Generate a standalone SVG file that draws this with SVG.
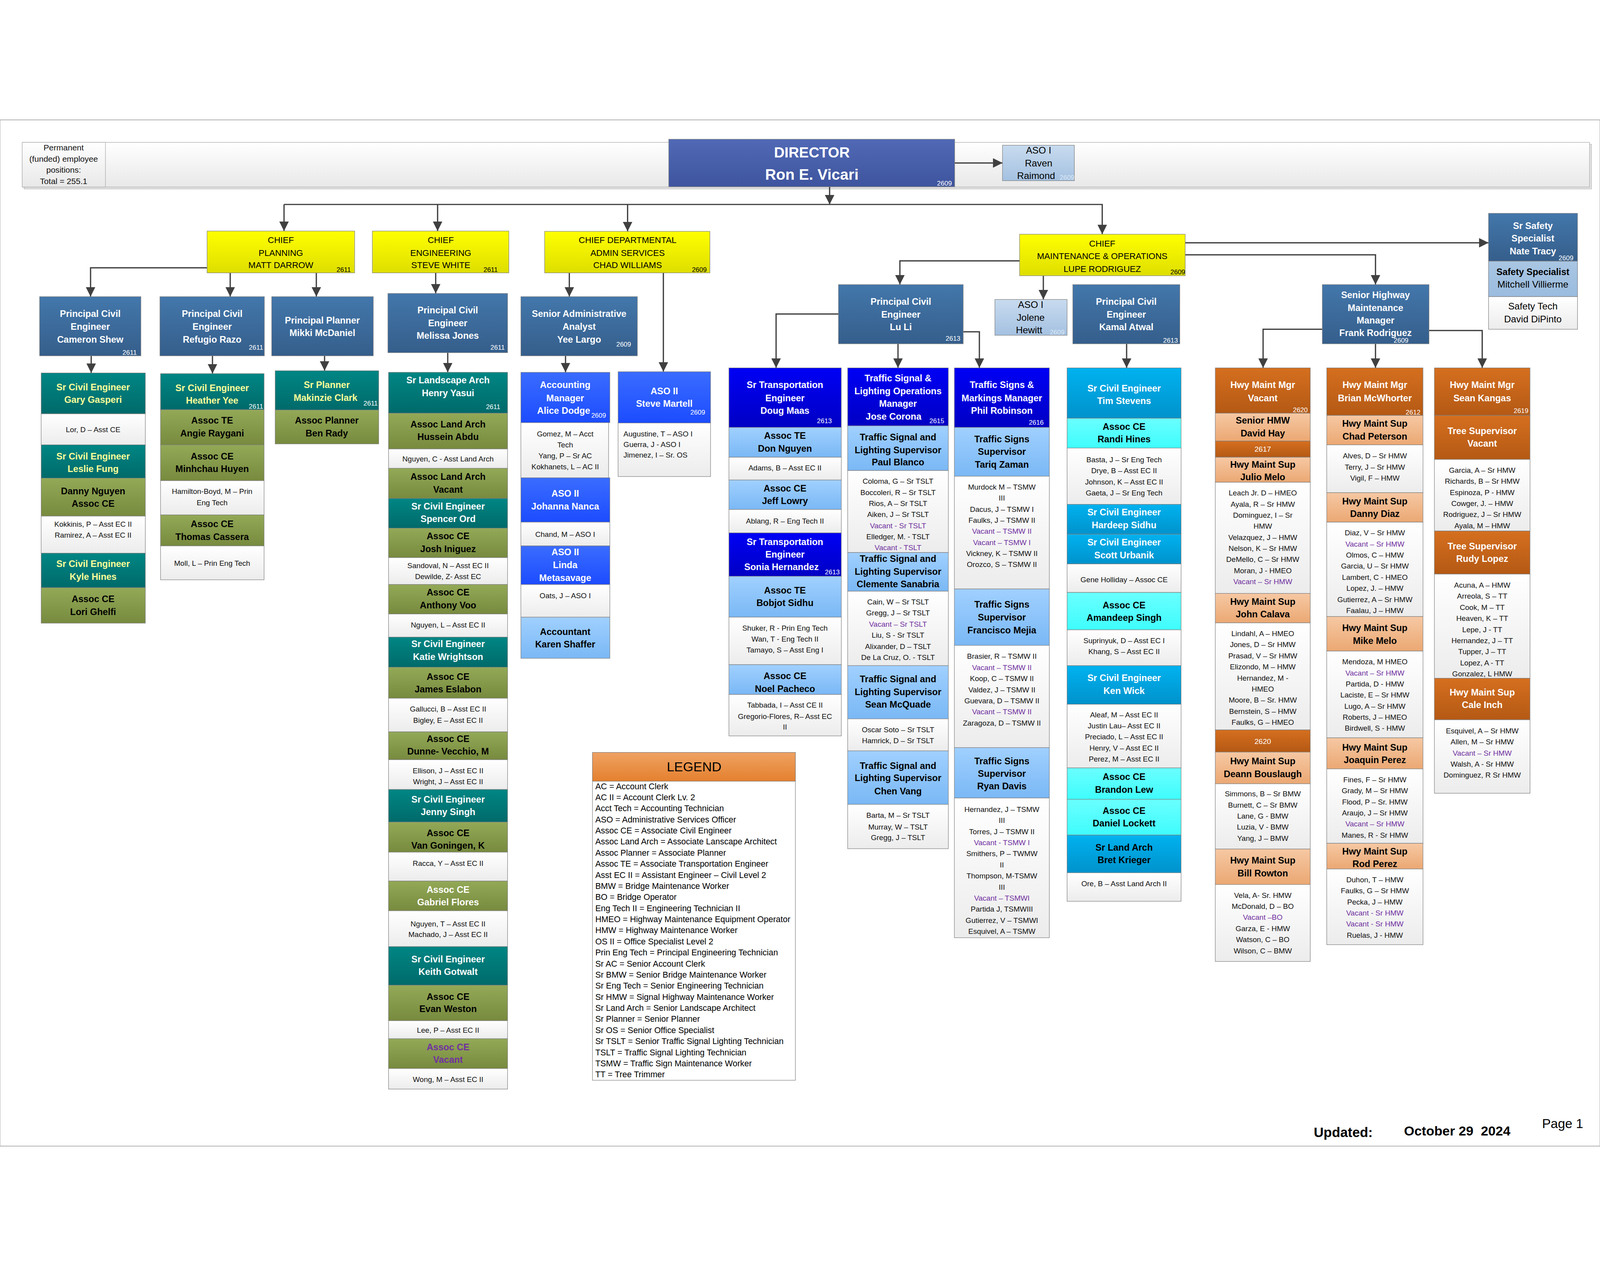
<svg xmlns="http://www.w3.org/2000/svg" width="5053" height="3240" viewBox="0 0 5053 3240" style="width:100vw;height:100vh">
<defs>
<linearGradient id="gTeal" x1="0" y1="0" x2="0" y2="1"><stop offset="0" stop-color="#008684"/><stop offset="1" stop-color="#006a6a"/></linearGradient>
<linearGradient id="gOlive" x1="0" y1="0" x2="0" y2="1"><stop offset="0" stop-color="#93a957"/><stop offset="1" stop-color="#778a3e"/></linearGradient>
<linearGradient id="gSteel" x1="0" y1="0" x2="0" y2="1"><stop offset="0" stop-color="#4377ab"/><stop offset="1" stop-color="#355e8b"/></linearGradient>
<linearGradient id="gRoyal" x1="0" y1="0" x2="0" y2="1"><stop offset="0" stop-color="#3a6cff"/><stop offset="1" stop-color="#1c4cff"/></linearGradient>
<linearGradient id="gBlue" x1="0" y1="0" x2="0" y2="1"><stop offset="0" stop-color="#0000f5"/><stop offset="1" stop-color="#0000c4"/></linearGradient>
<linearGradient id="gLight" x1="0" y1="0" x2="0" y2="1"><stop offset="0" stop-color="#a0d0ff"/><stop offset="1" stop-color="#7ab8f5"/></linearGradient>
<linearGradient id="gCyan" x1="0" y1="0" x2="0" y2="1"><stop offset="0" stop-color="#00b2ef"/><stop offset="1" stop-color="#0092cc"/></linearGradient>
<linearGradient id="gAqua" x1="0" y1="0" x2="0" y2="1"><stop offset="0" stop-color="#6affff"/><stop offset="1" stop-color="#3ffcfc"/></linearGradient>
<linearGradient id="gOrange" x1="0" y1="0" x2="0" y2="1"><stop offset="0" stop-color="#d56f1f"/><stop offset="1" stop-color="#b45914"/></linearGradient>
<linearGradient id="gPeach" x1="0" y1="0" x2="0" y2="1"><stop offset="0" stop-color="#f6c8a3"/><stop offset="1" stop-color="#eba873"/></linearGradient>
<linearGradient id="gWhite" x1="0" y1="0" x2="0" y2="1"><stop offset="0" stop-color="#ffffff"/><stop offset="1" stop-color="#ececec"/></linearGradient>
<linearGradient id="gYellow" x1="0" y1="0" x2="0" y2="1"><stop offset="0" stop-color="#ffff00"/><stop offset="1" stop-color="#dede00"/></linearGradient>
<linearGradient id="gDir" x1="0" y1="0" x2="0" y2="1"><stop offset="0" stop-color="#5169b5"/><stop offset="1" stop-color="#3e549e"/></linearGradient>
<linearGradient id="gAso" x1="0" y1="0" x2="0" y2="1"><stop offset="0" stop-color="#c8dbef"/><stop offset="1" stop-color="#a4c1e1"/></linearGradient>
<linearGradient id="gSafe" x1="0" y1="0" x2="0" y2="1"><stop offset="0" stop-color="#a9c6e3"/><stop offset="1" stop-color="#9bbcdf"/></linearGradient>
<linearGradient id="gLegend" x1="0" y1="0" x2="0" y2="1"><stop offset="0" stop-color="#efa262"/><stop offset="1" stop-color="#e4802e"/></linearGradient>
<linearGradient id="gBanner" x1="0" y1="0" x2="0" y2="1"><stop offset="0" stop-color="#ffffff"/><stop offset="1" stop-color="#e8e8e8"/></linearGradient>
<marker id="ah" markerUnits="userSpaceOnUse" markerWidth="30" markerHeight="30" refX="30" refY="15" orient="auto"><path d="M0,0 L30,15 L0,30 z" fill="#404040"/></marker>
</defs>
<style>
rect{stroke:#7f7f7f;stroke-width:1.5}
.teal{fill:url(#gTeal)}.olive{fill:url(#gOlive)}.steel{fill:url(#gSteel)}.royal{fill:url(#gRoyal)}.blue{fill:url(#gBlue)}.light{fill:url(#gLight)}.cyan{fill:url(#gCyan)}.aqua{fill:url(#gAqua)}.orange{fill:url(#gOrange)}.peach{fill:url(#gPeach)}.white{fill:url(#gWhite)}.yellow{fill:url(#gYellow)}.dir{fill:url(#gDir)}.aso{fill:url(#gAso)}.safe{fill:url(#gSafe)}.leg{fill:url(#gLegend)}.banner{fill:url(#gBanner);stroke:#a6a6a6}
text{font-family:"Liberation Sans",Arial,sans-serif}
.h{font-size:29px;font-weight:bold;text-anchor:middle;fill:#000}
.t{font-size:23.5px;text-anchor:middle;fill:#111}
.c{font-size:27.5px;text-anchor:middle;fill:#000}
.a{font-size:30px;text-anchor:middle;fill:#000}
.num{font-size:21px;fill:#fff;text-anchor:end}
.lg{font-size:26.5px;fill:#000}
.w{fill:#fff}.y{fill:#ffff99}.p{fill:#7030a0}.k{fill:#000}.ln{fill:#dce8f5}
.conn path{fill:none;stroke:#404040;stroke-width:4;marker-end:url(#ah)}
</style>
<rect x="0" y="0" width="5053" height="3240" fill="#fff" stroke="none"/>

<g id="banner">
<rect x="76" y="77" width="4950" height="141" fill="#d4d4d4" stroke="none" opacity="0.6"/>
<rect class="banner" x="70" y="71" width="4950" height="141"/>
</g>
<g id="n-permanent">
<rect class="banner" x="70" y="71" width="263" height="141"/>
<text class="t" style="font-size:26px" x="201" y="97">Permanent</text>
<text class="t" style="font-size:26px" x="201" y="132">(funded) employee</text>
<text class="t" style="font-size:26px" x="201" y="167">positions:</text>
<text class="t" style="font-size:26px" x="201" y="202">Total = 255.1</text>
</g>

<g class="conn" id="connectors">
<path d="M2620,211 L2620,267"/>
<path d="M897,267 L3481,267 L3481,361"/>
<path d="M897,267 L897,351"/>
<path d="M1382,267 L1382,351"/>
<path d="M1982,267 L1982,352"/>
<path d="M3015,136 L3166,136"/>
<path d="M654,467 L286,467 L286,558"/>
<path d="M727,483 L727,558"/>
<path d="M999,483 L999,558"/>
<path d="M1376,483 L1376,548"/>
<path d="M1798,483 L1798,558"/>
<path d="M2095,483 L2095,795"/>
<path d="M3220,445 L2842,445 L2842,520"/>
<path d="M3295,492 L3295,567"/>
<path d="M3743,388 L4701,388"/>
<path d="M3743,426 L4344,426 L4344,520"/>
<path d="M2648,613 L2451,613 L2451,783"/>
<path d="M2836,707 L2836,783"/>
<path d="M3042,669 L3093,669 L3093,783"/>
<path d="M3558,707 L3558,783"/>
<path d="M4176,661 L3989,661 L3989,783"/>
<path d="M4344,707 L4344,783"/>
<path d="M4513,665 L4681,665 L4681,783"/>
<path d="M288,745 L288,799"/>
<path d="M671,745 L671,801"/>
<path d="M1025,745 L1025,792"/>
<path d="M1414,735 L1414,797"/>
<path d="M1786,745 L1786,797"/>
</g>

<g id="n-director">
<rect class="dir" x="2112" y="61" width="903" height="150"/>
<text class="h w" style="font-size:46px" x="2564" y="119">DIRECTOR</text>
<text class="h w" style="font-size:48px" x="2564" y="189">Ron E. Vicari</text>
<text class="num" x="3006" y="207">2609</text>
</g>
<g id="n-raven">
<rect class="aso" x="3166" y="80" width="227" height="112"/>
<text class="a" x="3280" y="106">ASO I</text>
<text class="a" x="3280" y="147">Raven</text>
<text class="a" x="3272" y="187">Raimond</text>
<text class="num ln" x="3393" y="189">2609</text>
</g>

<g id="n-chief-planning">
<rect class="yellow" x="654" y="351" width="466" height="132"/>
<text class="c" x="887" y="389">CHIEF</text>
<text class="c" x="887" y="429">PLANNING</text>
<text class="c" x="887" y="468">MATT DARROW</text>
<text class="num k" x="1108" y="480">2611</text>
</g>
<g id="n-chief-engineering">
<rect class="yellow" x="1176" y="351" width="431" height="132"/>
<text class="c" x="1392" y="389">CHIEF</text>
<text class="c" x="1392" y="429">ENGINEERING</text>
<text class="c" x="1392" y="468">STEVE WHITE</text>
<text class="num k" x="1572" y="480">2611</text>
</g>
<g id="n-chief-admin">
<rect class="yellow" x="1720" y="352" width="522" height="131"/>
<text class="c" x="1982" y="389">CHIEF DEPARTMENTAL</text>
<text class="c" x="1982" y="429">ADMIN SERVICES</text>
<text class="c" x="1982" y="468">CHAD WILLIAMS</text>
<text class="num k" x="2232" y="480">2609</text>
</g>
<g id="n-chief-mo">
<rect class="yellow" x="3220" y="361" width="523" height="131"/>
<text class="c" x="3481" y="400">CHIEF</text>
<text class="c" x="3481" y="439">MAINTENANCE &amp; OPERATIONS</text>
<text class="c" x="3481" y="480">LUPE RODRIGUEZ</text>
<text class="num k" x="3743" y="487">2609</text>
</g>

<g id="n-cameron">
<rect class="steel" x="125" y="558" width="320" height="187"/>
<text class="h w" x="285" y="622">Principal Civil</text>
<text class="h w" x="285" y="663">Engineer</text>
<text class="h w" x="285" y="703">Cameron Shew</text>
<text class="num" x="432" y="742">2611</text>
</g>
<g id="n-refugio">
<rect class="steel" x="505" y="558" width="330" height="187"/>
<text class="h w" x="670" y="622">Principal Civil</text>
<text class="h w" x="670" y="663">Engineer</text>
<text class="h w" x="670" y="703">Refugio Razo</text>
<text class="num" x="831" y="725">2611</text>
</g>
<g id="n-mikki">
<rect class="steel" x="858" y="558" width="321" height="187"/>
<text class="h w" x="1018" y="643">Principal Planner</text>
<text class="h w" x="1018" y="682">Mikki McDaniel</text>
</g>
<g id="n-melissa">
<rect class="steel" x="1225" y="548" width="378" height="187"/>
<text class="h w" x="1414" y="611">Principal Civil</text>
<text class="h w" x="1414" y="651">Engineer</text>
<text class="h w" x="1414" y="691">Melissa Jones</text>
<text class="num" x="1594" y="725">2611</text>
</g>
<g id="n-yee">
<rect class="steel" x="1645" y="558" width="368" height="187"/>
<text class="h w" x="1829" y="622">Senior Administrative</text>
<text class="h w" x="1829" y="663">Analyst</text>
<text class="h w" x="1829" y="703">Yee Largo</text>
<text class="num" x="1993" y="716">2609</text>
</g>
<g id="n-luli">
<rect class="steel" x="2648" y="520" width="394" height="187"/>
<text class="h w" x="2845" y="584">Principal Civil</text>
<text class="h w" x="2845" y="624">Engineer</text>
<text class="h w" x="2845" y="664">Lu Li</text>
<text class="num" x="3033" y="697">2613</text>
</g>
<g id="n-jolene">
<rect class="aso" x="3142" y="567" width="228" height="113"/>
<text class="a" x="3255" y="594">ASO I</text>
<text class="a" x="3255" y="634">Jolene</text>
<text class="a" x="3250" y="674">Hewitt</text>
<text class="num ln" x="3362" y="678">2609</text>
</g>
<g id="n-kamal">
<rect class="steel" x="3388" y="520" width="338" height="187"/>
<text class="h w" x="3557" y="584">Principal Civil</text>
<text class="h w" x="3557" y="624">Engineer</text>
<text class="h w" x="3557" y="664">Kamal Atwal</text>
<text class="num" x="3720" y="703">2613</text>
</g>
<g id="n-nate">
<rect class="steel" x="4701" y="295" width="281" height="151"/>
<text class="h w" x="4841" y="344">Sr Safety</text>
<text class="h w" x="4841" y="384">Specialist</text>
<text class="h w" x="4841" y="425">Nate Tracy</text>
<text class="num" x="4969" y="443">2609</text>
</g>
<g id="n-mitchell">
<rect class="safe" x="4701" y="446" width="281" height="112"/>
<text class="h" x="4841" y="490">Safety Specialist</text>
<text class="a" x="4841" y="530">Mitchell Villierme</text>
</g>
<g id="n-dipinto">
<rect class="white" x="4701" y="558" width="281" height="103"/>
<text class="a" x="4841" y="599">Safety Tech</text>
<text class="a" x="4841" y="639">David DiPinto</text>
</g>
<g id="n-frank">
<rect class="steel" x="4176" y="520" width="337" height="187"/>
<text class="h w" x="4344" y="563">Senior Highway</text>
<text class="h w" x="4344" y="603">Maintenance</text>
<text class="h w" x="4344" y="643">Manager</text>
<text class="h w" x="4344" y="683">Frank Rodriguez</text>
<text class="num" x="4448" y="704">2609</text>
</g>

<g id="n-a1"><rect class="teal" x="130" y="799" width="329" height="129"/><text class="h y" x="294" y="854">Sr Civil Engineer</text><text class="h y" x="294" y="894">Gary Gasperi</text></g>
<g id="n-a2"><rect class="white" x="130" y="928" width="329" height="98"/><text class="t" x="294" y="986">Lor, D – Asst CE</text></g>
<g id="n-a3"><rect class="teal" x="130" y="1026" width="329" height="105"/><text class="h y" x="294" y="1072">Sr Civil Engineer</text><text class="h y" x="294" y="1112">Leslie Fung</text></g>
<g id="n-a4"><rect class="olive" x="130" y="1131" width="329" height="120"/><text class="h" x="294" y="1182">Danny Nguyen</text><text class="h" x="294" y="1221">Assoc CE</text></g>
<g id="n-a5"><rect class="white" x="130" y="1251" width="329" height="117"/><text class="t" x="294" y="1284">Kokkinis, P – Asst EC II</text><text class="t" x="294" y="1319">Ramirez, A – Asst EC II</text></g>
<g id="n-a6"><rect class="teal" x="130" y="1368" width="329" height="109"/><text class="h y" x="294" y="1411">Sr Civil Engineer</text><text class="h y" x="294" y="1452">Kyle Hines</text></g>
<g id="n-a7"><rect class="olive" x="130" y="1477" width="329" height="112"/><text class="h" x="294" y="1523">Assoc CE</text><text class="h" x="294" y="1563">Lori Ghelfi</text></g>

<g id="n-b1"><rect class="teal" x="507" y="801" width="327" height="114"/><text class="h y" x="670" y="856">Sr Civil Engineer</text><text class="h y" x="670" y="896">Heather Yee</text><text class="num" x="831" y="912">2611</text></g>
<g id="n-b2"><rect class="olive" x="507" y="915" width="327" height="111"/><text class="h" x="670" y="959">Assoc TE</text><text class="h" x="670" y="1000">Angie Raygani</text></g>
<g id="n-b3"><rect class="olive" x="507" y="1026" width="327" height="113"/><text class="h" x="670" y="1072">Assoc CE</text><text class="h" x="670" y="1112">Minhchau Huyen</text></g>
<g id="n-b4"><rect class="white" x="507" y="1139" width="327" height="108"/><text class="t" x="670" y="1181">Hamilton-Boyd, M – Prin</text><text class="t" x="670" y="1216">Eng Tech</text></g>
<g id="n-b5"><rect class="olive" x="507" y="1247" width="327" height="98"/><text class="h" x="670" y="1286">Assoc CE</text><text class="h" x="670" y="1326">Thomas Cassera</text></g>
<g id="n-b6"><rect class="white" x="507" y="1345" width="327" height="107"/><text class="t" x="670" y="1408">Moll, L – Prin Eng Tech</text></g>

<g id="n-c1"><rect class="teal" x="869" y="792" width="327" height="124"/><text class="h y" x="1032" y="847">Sr Planner</text><text class="h y" x="1028" y="887">Makinzie Clark</text><text class="num" x="1193" y="902">2611</text></g>
<g id="n-c2"><rect class="olive" x="869" y="916" width="327" height="107"/><text class="h" x="1032" y="959">Assoc Planner</text><text class="h" x="1032" y="1000">Ben Rady</text></g>

<g id="n-d1"><rect class="teal" x="1227" y="797" width="376" height="129"/><text class="h w" x="1415" y="832">Sr Landscape Arch</text><text class="h w" x="1415" y="872">Henry Yasui</text><text class="num" x="1580" y="913">2611</text></g>
<g id="n-d2"><rect class="olive" x="1227" y="926" width="376" height="113"/><text class="h" x="1415" y="971">Assoc Land Arch</text><text class="h" x="1415" y="1011">Hussein Abdu</text></g>
<g id="n-d3"><rect class="white" x="1227" y="1039" width="376" height="61"/><text class="t" x="1415" y="1079">Nguyen, C - Asst Land Arch</text></g>
<g id="n-d4"><rect class="olive" x="1227" y="1100" width="376" height="95"/><text class="h" x="1415" y="1137">Assoc Land Arch</text><text class="h" x="1415" y="1177">Vacant</text></g>
<g id="n-d5"><rect class="teal" x="1227" y="1195" width="376" height="94"/><text class="h w" x="1415" y="1230">Sr Civil Engineer</text><text class="h w" x="1415" y="1270">Spencer Ord</text></g>
<g id="n-d6"><rect class="olive" x="1227" y="1289" width="376" height="93"/><text class="h" x="1415" y="1324">Assoc CE</text><text class="h" x="1415" y="1365">Josh Iniguez</text></g>
<g id="n-d7"><rect class="white" x="1227" y="1382" width="376" height="85"/><text class="t" x="1415" y="1415">Sandoval, N – Asst EC II</text><text class="t" x="1415" y="1450">Dewilde, Z- Asst EC</text></g>
<g id="n-d8"><rect class="olive" x="1227" y="1467" width="376" height="93"/><text class="h" x="1415" y="1502">Assoc CE</text><text class="h" x="1415" y="1542">Anthony Voo</text></g>
<g id="n-d9"><rect class="white" x="1227" y="1560" width="376" height="73"/><text class="t" x="1415" y="1603">Nguyen, L – Asst EC II</text></g>
<g id="n-d10"><rect class="teal" x="1227" y="1633" width="376" height="95"/><text class="h w" x="1415" y="1665">Sr Civil Engineer</text><text class="h w" x="1415" y="1705">Katie Wrightson</text></g>
<g id="n-d11"><rect class="olive" x="1227" y="1728" width="376" height="98"/><text class="h" x="1415" y="1768">Assoc CE</text><text class="h" x="1415" y="1808">James Eslabon</text></g>
<g id="n-d12"><rect class="white" x="1227" y="1826" width="376" height="106"/><text class="t" x="1415" y="1868">Gallucci, B – Asst EC II</text><text class="t" x="1415" y="1904">Bigley, E – Asst EC II</text></g>
<g id="n-d13"><rect class="olive" x="1227" y="1932" width="376" height="88"/><text class="h" x="1415" y="1964">Assoc CE</text><text class="h" x="1415" y="2004">Dunne- Vecchio, M</text></g>
<g id="n-d14"><rect class="white" x="1227" y="2020" width="376" height="94"/><text class="t" x="1415" y="2063">Ellison, J – Asst EC II</text><text class="t" x="1415" y="2098">Wright, J – Asst EC II</text></g>
<g id="n-d15"><rect class="teal" x="1227" y="2114" width="376" height="103"/><text class="h w" x="1415" y="2155">Sr Civil Engineer</text><text class="h w" x="1415" y="2195">Jenny Singh</text></g>
<g id="n-d16"><rect class="olive" x="1227" y="2217" width="376" height="95"/><text class="h" x="1415" y="2262">Assoc CE</text><text class="h" x="1415" y="2301">Van Goningen, K</text></g>
<g id="n-d17"><rect class="white" x="1227" y="2312" width="376" height="91"/><text class="t" x="1415" y="2355">Racca, Y – Asst EC II</text></g>
<g id="n-d18"><rect class="olive" x="1227" y="2403" width="376" height="94"/><text class="h w" x="1415" y="2440">Assoc CE</text><text class="h w" x="1415" y="2480">Gabriel Flores</text></g>
<g id="n-d19"><rect class="white" x="1227" y="2497" width="376" height="113"/><text class="t" x="1415" y="2546">Nguyen, T – Asst EC II</text><text class="t" x="1415" y="2580">Machado, J  – Asst EC II</text></g>
<g id="n-d20"><rect class="teal" x="1227" y="2610" width="376" height="122"/><text class="h w" x="1415" y="2660">Sr Civil Engineer</text><text class="h w" x="1415" y="2700">Keith Gotwalt</text></g>
<g id="n-d21"><rect class="olive" x="1227" y="2732" width="376" height="112"/><text class="h" x="1415" y="2778">Assoc CE</text><text class="h" x="1415" y="2817">Evan Weston</text></g>
<g id="n-d22"><rect class="white" x="1227" y="2844" width="376" height="57"/><text class="t" x="1415" y="2882">Lee, P – Asst EC II</text></g>
<g id="n-d23"><rect class="olive" x="1227" y="2901" width="376" height="94"/><text class="h p" x="1415" y="2937">Assoc CE</text><text class="h p" x="1415" y="2977">Vacant</text></g>
<g id="n-d24"><rect class="white" x="1227" y="2995" width="376" height="65"/><text class="t" x="1415" y="3038">Wong, M – Asst EC II</text></g>

<g id="n-e1"><rect class="royal" x="1645" y="797" width="281" height="159"/><text class="h w" x="1785" y="847">Accounting</text><text class="h w" x="1785" y="888">Manager</text><text class="h w" x="1780" y="928">Alice Dodge</text><text class="num" x="1914" y="940">2609</text></g>
<g id="n-e2"><rect class="white" x="1645" y="956" width="277" height="174"/><text class="t" x="1785" y="999">Gomez, M – Acct</text><text class="t" x="1785" y="1034">Tech</text><text class="t" x="1785" y="1068">Yang, P – Sr AC</text><text class="t" x="1785" y="1103">Kokhanets, L  – AC II</text></g>
<g id="n-e3"><rect class="royal" x="1645" y="1130" width="281" height="140"/><text class="h w" x="1785" y="1189">ASO II</text><text class="h w" x="1785" y="1230">Johanna Nanca</text></g>
<g id="n-e4"><rect class="white" x="1645" y="1270" width="281" height="75"/><text class="t" x="1785" y="1317">Chand, M – ASO I</text></g>
<g id="n-e5"><rect class="royal" x="1645" y="1345" width="281" height="122"/><text class="h w" x="1785" y="1375">ASO II</text><text class="h w" x="1785" y="1415">Linda</text><text class="h w" x="1785" y="1456">Metasavage</text></g>
<g id="n-e6"><rect class="white" x="1645" y="1467" width="281" height="103"/><text class="t" x="1785" y="1510">Oats, J – ASO I</text></g>
<g id="n-e7"><rect class="light" x="1645" y="1570" width="281" height="130"/><text class="h" x="1785" y="1626">Accountant</text><text class="h" x="1785" y="1666">Karen Shaffer</text></g>

<g id="n-f1"><rect class="royal" x="1952" y="795" width="292" height="162"/><text class="h w" x="2098" y="866">ASO II</text><text class="h w" x="2098" y="906">Steve Martell</text><text class="num" x="2227" y="930">2609</text></g>
<g id="n-f2"><rect class="white" x="1952" y="957" width="292" height="169"/><text class="t" style="text-anchor:start" x="1969" y="1000">Augustine, T – ASO I</text><text class="t" style="text-anchor:start" x="1969" y="1033">Guerra, J -  ASO I</text><text class="t" style="text-anchor:start" x="1969" y="1066">Jimenez, I – Sr. OS</text></g>

<g id="n-g1"><rect class="blue" x="2302" y="783" width="355" height="188"/><text class="h w" x="2479" y="847">Sr Transportation</text><text class="h w" x="2479" y="888">Engineer</text><text class="h w" x="2479" y="928">Doug Maas</text><text class="num" x="2627" y="957">2613</text></g>
<g id="n-g2"><rect class="light" x="2302" y="971" width="355" height="94"/><text class="h" x="2479" y="1007">Assoc TE</text><text class="h" x="2479" y="1047">Don Nguyen</text></g>
<g id="n-g3"><rect class="white" x="2302" y="1065" width="355" height="72"/><text class="t" x="2479" y="1107">Adams, B – Asst EC II</text></g>
<g id="n-g4"><rect class="light" x="2302" y="1137" width="355" height="93"/><text class="h" x="2479" y="1173">Assoc CE</text><text class="h" x="2479" y="1213">Jeff Lowry</text></g>
<g id="n-g5"><rect class="white" x="2302" y="1230" width="355" height="74"/><text class="t" x="2479" y="1274">Ablang, R – Eng Tech II</text></g>
<g id="n-g6"><rect class="blue" x="2302" y="1304" width="355" height="137"/><text class="h w" x="2479" y="1342">Sr Transportation</text><text class="h w" x="2479" y="1382">Engineer</text><text class="h w" x="2468" y="1422">Sonia Hernandez</text><text class="num" x="2652" y="1435">2613</text></g>
<g id="n-g7"><rect class="light" x="2302" y="1441" width="355" height="129"/><text class="h" x="2479" y="1495">Assoc TE</text><text class="h" x="2479" y="1535">Bobjot Sidhu</text></g>
<g id="n-g8"><rect class="white" x="2302" y="1570" width="355" height="150"/><text class="t" x="2479" y="1612">Shuker, R - Prin Eng Tech</text><text class="t" x="2479" y="1647">Wan, T - Eng Tech II</text><text class="t" x="2479" y="1682">Tamayo, S – Asst Eng I</text></g>
<g id="n-g9"><rect class="light" x="2302" y="1720" width="355" height="94"/><text class="h" x="2479" y="1766">Assoc CE</text><text class="h" x="2479" y="1806">Noel Pacheco</text></g>
<g id="n-g10"><rect class="white" x="2302" y="1814" width="355" height="131"/><text class="t" x="2479" y="1856">Tabbada, I – Asst CE II</text><text class="t" x="2479" y="1891">Gregorio-Flores, R– Asst EC</text><text class="t" x="2479" y="1925">II</text></g>

<g id="n-h1"><rect class="blue" x="2677" y="783" width="318" height="183"/><text class="h w" x="2836" y="826">Traffic Signal &amp;</text><text class="h w" x="2836" y="866">Lighting Operations</text><text class="h w" x="2836" y="906">Manager</text><text class="h w" x="2822" y="946">Jose Corona</text><text class="num" x="2982" y="957">2615</text></g>
<g id="n-h2"><rect class="light" x="2677" y="966" width="318" height="141"/><text class="h" x="2836" y="1012">Traffic Signal and</text><text class="h" x="2836" y="1052">Lighting Supervisor</text><text class="h" x="2836" y="1091">Paul  Blanco</text></g>
<g id="n-h3"><rect class="white" x="2677" y="1107" width="318" height="259"/><text class="t" x="2836" y="1149">Coloma, G – Sr TSLT</text><text class="t" x="2836" y="1184">Boccoleri, R – Sr TSLT</text><text class="t" x="2836" y="1219">Rios, A – Sr TSLT</text><text class="t" x="2836" y="1254">Aiken, J – Sr TSLT</text><text class="t p" x="2836" y="1289">Vacant -  Sr TSLT</text><text class="t" x="2836" y="1324">Elledger, M. - TSLT</text><text class="t p" x="2836" y="1359">Vacant - TSLT</text></g>
<g id="n-h4"><rect class="light" x="2677" y="1366" width="318" height="122"/><text class="h" x="2836" y="1396">Traffic Signal and</text><text class="h" x="2836" y="1436">Lighting Supervisor</text><text class="h" x="2836" y="1476">Clemente Sanabria</text></g>
<g id="n-h5"><rect class="white" x="2677" y="1488" width="318" height="235"/><text class="t" x="2836" y="1530">Cain, W – Sr TSLT</text><text class="t" x="2836" y="1565">Gregg, J – Sr TSLT</text><text class="t p" x="2836" y="1600">Vacant – Sr TSLT</text><text class="t" x="2836" y="1635">Liu, S -  Sr TSLT</text><text class="t" x="2836" y="1670">Alixander, D – TSLT</text><text class="t" x="2836" y="1705">De La Cruz, O. - TSLT</text></g>
<g id="n-h6"><rect class="light" x="2677" y="1723" width="318" height="168"/><text class="h" x="2836" y="1775">Traffic Signal and</text><text class="h" x="2836" y="1816">Lighting Supervisor</text><text class="h" x="2836" y="1856">Sean McQuade</text></g>
<g id="n-h7"><rect class="white" x="2677" y="1891" width="318" height="101"/><text class="t" x="2836" y="1933">Oscar Soto – Sr TSLT</text><text class="t" x="2836" y="1968">Hamrick, D – Sr TSLT</text></g>
<g id="n-h8"><rect class="light" x="2677" y="1992" width="318" height="169"/><text class="h" x="2836" y="2049">Traffic Signal and</text><text class="h" x="2836" y="2088">Lighting Supervisor</text><text class="h" x="2836" y="2129">Chen Vang</text></g>
<g id="n-h9"><rect class="white" x="2677" y="2161" width="318" height="140"/><text class="t" x="2836" y="2204">Barta, M – Sr TSLT</text><text class="t" x="2836" y="2240">Murray, W –  TSLT</text><text class="t" x="2836" y="2274">Gregg, J –  TSLT</text></g>

<g id="n-i1"><rect class="blue" x="3014" y="783" width="300" height="188"/><text class="h w" x="3164" y="847">Traffic Signs &amp;</text><text class="h w" x="3164" y="888">Markings Manager</text><text class="h w" x="3164" y="928">Phil Robinson</text><text class="num" x="3296" y="962">2616</text></g>
<g id="n-i2"><rect class="light" x="3014" y="971" width="300" height="154"/><text class="h" x="3164" y="1018">Traffic Signs</text><text class="h" x="3164" y="1058">Supervisor</text><text class="h" x="3164" y="1098">Tariq Zaman</text></g>
<g id="n-i3"><rect class="white" x="3014" y="1125" width="300" height="356"/><text class="t" x="3164" y="1167">Murdock M – TSMW</text><text class="t" x="3164" y="1202">III</text><text class="t" x="3164" y="1237">Dacus, J – TSMW I</text><text class="t" x="3164" y="1272">Faulks, J – TSMW II</text><text class="t p" x="3164" y="1307">Vacant – TSMW II</text><text class="t p" x="3164" y="1342">Vacant – TSMW I</text><text class="t" x="3164" y="1377">Vickney, K – TSMW II</text><text class="t" x="3164" y="1412">Orozco, S – TSMW II</text></g>
<g id="n-i4"><rect class="light" x="3014" y="1481" width="300" height="178"/><text class="h" x="3164" y="1540">Traffic Signs</text><text class="h" x="3164" y="1580">Supervisor</text><text class="h" x="3164" y="1621">Francisco Mejia</text></g>
<g id="n-i5"><rect class="white" x="3014" y="1659" width="300" height="323"/><text class="t" x="3164" y="1702">Brasier, R – TSMW II</text><text class="t p" x="3164" y="1737">Vacant – TSMW II</text><text class="t" x="3164" y="1772">Koop, C – TSMW II</text><text class="t" x="3164" y="1807">Valdez, J – TSMW II</text><text class="t" x="3164" y="1842">Guevara, D – TSMW II</text><text class="t p" x="3164" y="1877">Vacant – TSMW II</text><text class="t" x="3164" y="1912">Zaragoza, D – TSMW II</text></g>
<g id="n-i6"><rect class="light" x="3014" y="1982" width="300" height="159"/><text class="h" x="3164" y="2034">Traffic Signs</text><text class="h" x="3164" y="2074">Supervisor</text><text class="h" x="3164" y="2114">Ryan Davis</text></g>
<g id="n-i7"><rect class="white" x="3014" y="2141" width="300" height="441"/><text class="t" x="3164" y="2185">Hernandez, J – TSMW</text><text class="t" x="3164" y="2220">III</text><text class="t" x="3164" y="2255">Torres, J – TSMW II</text><text class="t p" x="3164" y="2290">Vacant - TSMW I</text><text class="t" x="3164" y="2325">Smithers, P – TWMW</text><text class="t" x="3164" y="2360">II</text><text class="t" x="3164" y="2395">Thompson, M-TSMW</text><text class="t" x="3164" y="2430">III</text><text class="t p" x="3164" y="2465">Vacant – TSMWI</text><text class="t" x="3164" y="2500">Partida J, TSMWIII</text><text class="t" x="3164" y="2535">Gutierrez, V – TSMWI</text><text class="t" x="3164" y="2570">Esquivel, A – TSMW</text></g>

<g id="n-j1"><rect class="cyan" x="3370" y="783" width="360" height="159"/><text class="h w" x="3550" y="857">Sr Civil Engineer</text><text class="h w" x="3550" y="897">Tim Stevens</text></g>
<g id="n-j2"><rect class="aqua" x="3370" y="942" width="360" height="94"/><text class="h" x="3550" y="978">Assoc CE</text><text class="h" x="3550" y="1018">Randi Hines</text></g>
<g id="n-j3"><rect class="white" x="3370" y="1036" width="360" height="178"/><text class="t" x="3550" y="1081">Basta, J – Sr Eng Tech</text><text class="t" x="3550" y="1116">Drye, B – Asst EC II</text><text class="t" x="3550" y="1151">Johnson, K – Asst EC II</text><text class="t" x="3550" y="1186">Gaeta, J – Sr Eng Tech</text></g>
<g id="n-j4"><rect class="cyan" x="3370" y="1214" width="360" height="94"/><text class="h w" x="3550" y="1249">Sr Civil Engineer</text><text class="h w" x="3550" y="1289">Hardeep Sidhu</text></g>
<g id="n-j5"><rect class="cyan" x="3370" y="1308" width="360" height="94"/><text class="h w" x="3550" y="1344">Sr Civil Engineer</text><text class="h w" x="3550" y="1384">Scott Urbanik</text></g>
<g id="n-j6"><rect class="white" x="3370" y="1402" width="360" height="90"/><text class="t" x="3550" y="1460">Gene Holliday – Assoc CE</text></g>
<g id="n-j7"><rect class="aqua" x="3370" y="1492" width="360" height="118"/><text class="h" x="3550" y="1542">Assoc CE</text><text class="h" x="3550" y="1582">Amandeep Singh</text></g>
<g id="n-j8"><rect class="white" x="3370" y="1610" width="360" height="113"/><text class="t" x="3550" y="1652">Suprinyuk, D – Asst EC I</text><text class="t" x="3550" y="1687">Khang, S – Asst EC II</text></g>
<g id="n-j9"><rect class="cyan" x="3370" y="1723" width="360" height="122"/><text class="h w" x="3550" y="1772">Sr Civil Engineer</text><text class="h w" x="3550" y="1812">Ken Wick</text></g>
<g id="n-j10"><rect class="white" x="3370" y="1845" width="360" height="201"/><text class="t" x="3550" y="1886">Aleaf, M – Asst EC II</text><text class="t" x="3550" y="1921">Justin Lau– Asst EC II</text><text class="t" x="3550" y="1956">Preciado, L – Asst EC II</text><text class="t" x="3550" y="1991">Henry, V – Asst EC II</text><text class="t" x="3550" y="2026">Perez, M – Asst EC II</text></g>
<g id="n-j11"><rect class="aqua" x="3370" y="2046" width="360" height="99"/><text class="h" x="3550" y="2084">Assoc CE</text><text class="h" x="3550" y="2124">Brandon Lew</text></g>
<g id="n-j12"><rect class="aqua" x="3370" y="2145" width="360" height="113"/><text class="h" x="3550" y="2191">Assoc CE</text><text class="h" x="3550" y="2231">Daniel Lockett</text></g>
<g id="n-j13"><rect class="cyan" x="3370" y="2258" width="360" height="119"/><text class="h" x="3550" y="2307">Sr Land Arch</text><text class="h" x="3550" y="2347">Bret Krieger</text></g>
<g id="n-j14"><rect class="white" x="3370" y="2377" width="360" height="90"/><text class="t" x="3550" y="2420">Ore, B – Asst Land Arch II</text></g>

<g id="n-k1"><rect class="orange" x="3838" y="783" width="300" height="143"/><text class="h w" x="3988" y="847">Hwy Maint Mgr</text><text class="h w" x="3988" y="888">Vacant</text><text class="num" x="4130" y="923">2620</text></g>
<g id="n-k2"><rect class="peach" x="3838" y="926" width="300" height="88"/><text class="h" x="3988" y="959">Senior HMW</text><text class="h" x="3988" y="1000">David Hay</text></g>
<g id="n-k3"><rect class="orange" x="3838" y="1014" width="300" height="51"/><text class="t w" x="3988" y="1047">2617</text></g>
<g id="n-k4"><rect class="peach" x="3838" y="1065" width="300" height="79"/><text class="h" x="3988" y="1098">Hwy Maint Sup</text><text class="h" x="3988" y="1138">Julio Melo</text></g>
<g id="n-k5"><rect class="white" x="3838" y="1144" width="300" height="351"/><text class="t" x="3988" y="1186">Leach Jr. D – HMEO</text><text class="t" x="3988" y="1221">Ayala, R – Sr HMW</text><text class="t" x="3988" y="1256">Dominguez, I – Sr</text><text class="t" x="3988" y="1291">HMW</text><text class="t" x="3988" y="1326">Velazquez, J – HMW</text><text class="t" x="3988" y="1361">Nelson, K – Sr HMW</text><text class="t" x="3988" y="1396">DeMello, C – Sr HMW</text><text class="t" x="3988" y="1431">Moran, J - HMEO</text><text class="t p" x="3988" y="1466">Vacant – Sr HMW</text></g>
<g id="n-k6"><rect class="peach" x="3838" y="1495" width="300" height="93"/><text class="h" x="3988" y="1531">Hwy Maint Sup</text><text class="h" x="3988" y="1571">John Calava</text></g>
<g id="n-k7"><rect class="white" x="3838" y="1588" width="300" height="338"/><text class="t" x="3988" y="1630">Lindahl, A – HMEO</text><text class="t" x="3988" y="1665">Jones, D – Sr HMW</text><text class="t" x="3988" y="1700">Prasad, V  – Sr HMW</text><text class="t" x="3988" y="1735">Elizondo, M – HMW</text><text class="t" x="3988" y="1770">Hernandez, M -</text><text class="t" x="3988" y="1805">HMEO</text><text class="t" x="3988" y="1840">Moore, B – Sr. HMW</text><text class="t" x="3988" y="1875">Bernstein, S – HMW</text><text class="t" x="3988" y="1910">Faulks, G – HMEO</text></g>
<g id="n-k8"><rect class="orange" x="3838" y="1926" width="300" height="70"/><text class="t w" x="3988" y="1970">2620</text></g>
<g id="n-k9"><rect class="peach" x="3838" y="1996" width="300" height="100"/><text class="h" x="3988" y="2035">Hwy Maint Sup</text><text class="h" x="3988" y="2075">Deann Bouslaugh</text></g>
<g id="n-k10"><rect class="white" x="3838" y="2096" width="300" height="206"/><text class="t" x="3988" y="2136">Simmons, B – Sr BMW</text><text class="t" x="3988" y="2171">Burnett, C – Sr BMW</text><text class="t" x="3988" y="2206">Lane, G - BMW</text><text class="t" x="3988" y="2241">Luzia, V -  BMW</text><text class="t" x="3988" y="2276">Yang, J – BMW</text></g>
<g id="n-k11"><rect class="peach" x="3838" y="2302" width="300" height="112"/><text class="h" x="3988" y="2348">Hwy Maint Sup</text><text class="h" x="3988" y="2388">Bill Rowton</text></g>
<g id="n-k12"><rect class="white" x="3838" y="2414" width="300" height="243"/><text class="t" x="3988" y="2456">Vela, A- Sr. HMW</text><text class="t" x="3988" y="2491">McDonald, D – BO</text><text class="t p" x="3988" y="2526">Vacant –BO</text><text class="t" x="3988" y="2561">Garza, E - HMW</text><text class="t" x="3988" y="2596">Watson, C – BO</text><text class="t" x="3988" y="2631">Wilson, C – BMW</text></g>

<g id="n-l1"><rect class="orange" x="4190" y="783" width="304" height="150"/><text class="h w" x="4342" y="847">Hwy Maint Mgr</text><text class="h w" x="4342" y="888">Brian McWhorter</text><text class="num" x="4486" y="930">2612</text></g>
<g id="n-l2"><rect class="peach" x="4190" y="933" width="304" height="93"/><text class="h" x="4342" y="969">Hwy Maint Sup</text><text class="h" x="4342" y="1009">Chad Peterson</text></g>
<g id="n-l3"><rect class="white" x="4190" y="1026" width="304" height="151"/><text class="t" x="4342" y="1069">Alves, D – Sr HMW</text><text class="t" x="4342" y="1104">Terry, J – Sr HMW</text><text class="t" x="4342" y="1139">Vigil, F – HMW</text></g>
<g id="n-l4"><rect class="peach" x="4190" y="1177" width="304" height="93"/><text class="h" x="4342" y="1214">Hwy Maint Sup</text><text class="h" x="4342" y="1254">Danny Diaz</text></g>
<g id="n-l5"><rect class="white" x="4190" y="1270" width="304" height="298"/><text class="t" x="4342" y="1312">Diaz, V – Sr HMW</text><text class="t p" x="4342" y="1347">Vacant – Sr HMW</text><text class="t" x="4342" y="1382">Olmos, C – HMW</text><text class="t" x="4342" y="1417">Garcia, U – Sr HMW</text><text class="t" x="4342" y="1452">Lambert, C - HMEO</text><text class="t" x="4342" y="1487">Lopez, J. – HMW</text><text class="t" x="4342" y="1522">Gutierrez, A – Sr HMW</text><text class="t" x="4342" y="1557">Faalau, J – HMW</text></g>
<g id="n-l6"><rect class="peach" x="4190" y="1568" width="304" height="109"/><text class="h" x="4342" y="1614">Hwy Maint Sup</text><text class="h" x="4342" y="1654">Mike Melo</text></g>
<g id="n-l7"><rect class="white" x="4190" y="1677" width="304" height="274"/><text class="t" x="4342" y="1719">Mendoza, M  HMEO</text><text class="t p" x="4342" y="1754">Vacant  – Sr HMW</text><text class="t" x="4342" y="1789">Partida, D - HMW</text><text class="t" x="4342" y="1824">Laciste, E – Sr HMW</text><text class="t" x="4342" y="1859">Lugo, A – Sr HMW</text><text class="t" x="4342" y="1894">Roberts, J  – HMEO</text><text class="t" x="4342" y="1929">Birdwell, S - HMW</text></g>
<g id="n-l8"><rect class="peach" x="4190" y="1951" width="304" height="98"/><text class="h" x="4342" y="1991">Hwy Maint Sup</text><text class="h" x="4342" y="2031">Joaquin Perez</text></g>
<g id="n-l9"><rect class="white" x="4190" y="2049" width="304" height="235"/><text class="t" x="4342" y="2091">Fines, F – Sr HMW</text><text class="t" x="4342" y="2126">Grady, M – Sr HMW</text><text class="t" x="4342" y="2161">Flood, P – Sr. HMW</text><text class="t" x="4342" y="2196">Araujo, J – Sr HMW</text><text class="t p" x="4342" y="2231">Vacant – Sr HMW</text><text class="t" x="4342" y="2266">Manes, R -  Sr HMW</text></g>
<g id="n-l10"><rect class="peach" x="4190" y="2284" width="304" height="81"/><text class="h" x="4342" y="2320">Hwy Maint Sup</text><text class="h" x="4342" y="2359">Rod Perez</text></g>
<g id="n-l11"><rect class="white" x="4190" y="2365" width="304" height="239"/><text class="t" x="4342" y="2407">Duhon, T – HMW</text><text class="t" x="4342" y="2442">Faulks, G – Sr HMW</text><text class="t" x="4342" y="2477">Pecka, J – HMW</text><text class="t p" x="4342" y="2512">Vacant - Sr HMW</text><text class="t p" x="4342" y="2547">Vacant - Sr HMW</text><text class="t" x="4342" y="2582">Ruelas, J -  HMW</text></g>

<g id="n-m1"><rect class="orange" x="4530" y="783" width="302" height="150"/><text class="h w" x="4681" y="847">Hwy Maint Mgr</text><text class="h w" x="4681" y="888">Sean Kangas</text><text class="num" x="4827" y="926">2619</text></g>
<g id="n-m2"><rect class="orange" x="4530" y="933" width="302" height="139"/><text class="h w" x="4681" y="992">Tree Supervisor</text><text class="h w" x="4681" y="1032">Vacant</text></g>
<g id="n-m3"><rect class="white" x="4530" y="1072" width="302" height="226"/><text class="t" x="4681" y="1114">Garcia, A – Sr HMW</text><text class="t" x="4681" y="1149">Richards, B – Sr HMW</text><text class="t" x="4681" y="1184">Espinoza, P - HMW</text><text class="t" x="4681" y="1219">Cowger, J. – HMW</text><text class="t" x="4681" y="1254">Rodriguez, J – Sr HMW</text><text class="t" x="4681" y="1289">Ayala, M – HMW</text></g>
<g id="n-m4"><rect class="orange" x="4530" y="1298" width="302" height="136"/><text class="h w" x="4681" y="1356">Tree Supervisor</text><text class="h w" x="4681" y="1396">Rudy Lopez</text></g>
<g id="n-m5"><rect class="white" x="4530" y="1434" width="302" height="329"/><text class="t" x="4681" y="1477">Acuna, A – HMW</text><text class="t" x="4681" y="1512">Arreola, S – TT</text><text class="t" x="4681" y="1547">Cook, M – TT</text><text class="t" x="4681" y="1582">Heaven, K – TT</text><text class="t" x="4681" y="1617">Lepe, J - TT</text><text class="t" x="4681" y="1652">Hernandez, J – TT</text><text class="t" x="4681" y="1687">Tupper, J – TT</text><text class="t" x="4681" y="1722">Lopez, A -  TT</text><text class="t" x="4681" y="1757">Gonzalez, L HMW</text></g>
<g id="n-m6"><rect class="orange" x="4530" y="1763" width="302" height="131"/><text class="h w" x="4681" y="1817">Hwy Maint Sup</text><text class="h w" x="4681" y="1857">Cale Inch</text></g>
<g id="n-m7"><rect class="white" x="4530" y="1894" width="302" height="232"/><text class="t" x="4681" y="1937">Esquivel, A – Sr HMW</text><text class="t" x="4681" y="1972">Allen, M – Sr HMW</text><text class="t p" x="4681" y="2007">Vacant  – Sr HMW</text><text class="t" x="4681" y="2042">Walsh, A - Sr HMW</text><text class="t" x="4681" y="2077">Dominguez, R Sr HMW</text></g>

<g id="n-legend">
<rect x="1871" y="1997" width="641" height="1035" fill="#fff"/>
<rect class="leg" x="1871" y="1997" width="641" height="91"/>
<text x="2192" y="2057" style="font-size:42px;text-anchor:middle;fill:#000">LEGEND</text>
<text class="lg" x="1880" y="2113">AC = Account Clerk</text>
<text class="lg" x="1880" y="2148">AC II = Account Clerk Lv. 2</text>
<text class="lg" x="1880" y="2183">Acct Tech = Accounting Technician</text>
<text class="lg" x="1880" y="2218">ASO = Administrative Services Officer</text>
<text class="lg" x="1880" y="2253">Assoc CE = Associate Civil Engineer</text>
<text class="lg" x="1880" y="2288">Assoc Land Arch = Associate Lanscape Architect</text>
<text class="lg" x="1880" y="2323">Assoc Planner = Associate Planner</text>
<text class="lg" x="1880" y="2358">Assoc TE = Associate Transportation Engineer</text>
<text class="lg" x="1880" y="2393">Asst EC II = Assistant Engineer – Civil Level 2</text>
<text class="lg" x="1880" y="2428">BMW = Bridge Maintenance Worker</text>
<text class="lg" x="1880" y="2463">BO = Bridge Operator</text>
<text class="lg" x="1880" y="2498">Eng Tech II = Engineering Technician II</text>
<text class="lg" x="1880" y="2533">HMEO = Highway Maintenance Equipment Operator</text>
<text class="lg" x="1880" y="2568">HMW = Highway Maintenance Worker</text>
<text class="lg" x="1880" y="2603">OS II = Office Specialist Level 2</text>
<text class="lg" x="1880" y="2638">Prin Eng Tech = Principal Engineering Technician</text>
<text class="lg" x="1880" y="2673">Sr AC = Senior Account Clerk</text>
<text class="lg" x="1880" y="2708">Sr BMW = Senior Bridge Maintenance Worker</text>
<text class="lg" x="1880" y="2743">Sr Eng Tech = Senior Engineering Technician</text>
<text class="lg" x="1880" y="2778">Sr HMW = Signal Highway Maintenance Worker</text>
<text class="lg" x="1880" y="2813">Sr Land Arch = Senior Landscape Architect</text>
<text class="lg" x="1880" y="2848">Sr Planner = Senior Planner</text>
<text class="lg" x="1880" y="2883">Sr OS = Senior Office Specialist</text>
<text class="lg" x="1880" y="2918">Sr TSLT = Senior Traffic Signal Lighting Technician</text>
<text class="lg" x="1880" y="2953">TSLT = Traffic Signal Lighting Technician</text>
<text class="lg" x="1880" y="2988">TSMW = Traffic Sign Maintenance Worker</text>
<text class="lg" x="1880" y="3023">TT = Tree Trimmer</text>
</g>

<g id="footer">
<text x="4149" y="3211" style="font-size:43px;font-weight:bold;fill:#000">Updated:</text>
<text x="4434" y="3206" xml:space="preserve" style="font-size:42px;font-weight:bold;fill:#000">October 29  2024</text>
<text x="4870" y="3183" style="font-size:41px;fill:#000">Page 1</text>
</g>
</svg>
